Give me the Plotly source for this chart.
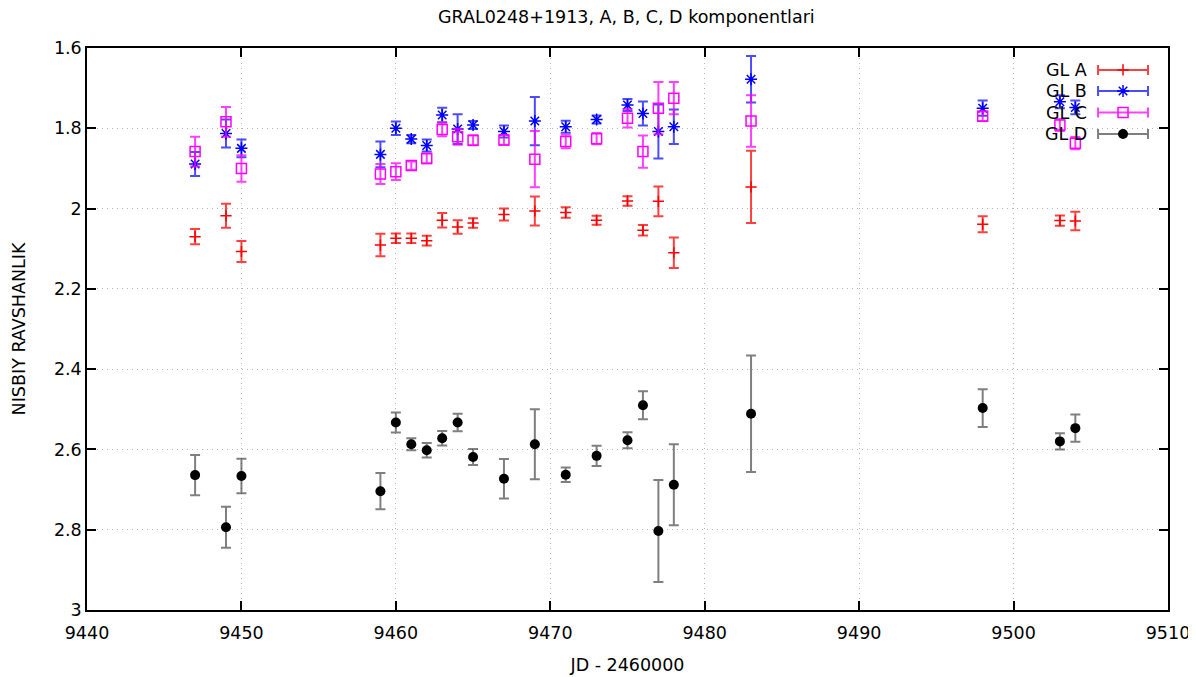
import plotly.graph_objects as go

# ---- data ----
jd = [9447, 9449, 9450, 9459, 9460, 9461, 9462, 9463, 9464, 9465, 9467,
      9469, 9471, 9473, 9475, 9476, 9477, 9478, 9483, 9498, 9503, 9504]

gl_a = [2.070, 2.018, 2.107, 2.091, 2.074, 2.074, 2.080, 2.029, 2.046, 2.036, 2.015,
        2.006, 2.010, 2.029, 1.981, 2.054, 1.982, 2.110, 1.946, 2.039, 2.030, 2.031]
gl_a_err = [0.019, 0.030, 0.026, 0.028, 0.012, 0.012, 0.012, 0.018, 0.017, 0.012, 0.015,
            0.036, 0.013, 0.011, 0.012, 0.013, 0.037, 0.038, 0.090, 0.020, 0.013, 0.023]

gl_b = [1.889, 1.813, 1.850, 1.865, 1.800, 1.827, 1.843, 1.767, 1.802, 1.792, 1.808,
        1.782, 1.796, 1.778, 1.742, 1.763, 1.808, 1.796, 1.678, 1.750, 1.734, 1.748]
gl_b_err = [0.030, 0.035, 0.022, 0.032, 0.017, 0.010, 0.015, 0.018, 0.037, 0.010, 0.015,
            0.060, 0.015, 0.010, 0.015, 0.030, 0.067, 0.043, 0.058, 0.019, 0.016, 0.017]

gl_c = [1.858, 1.784, 1.900, 1.914, 1.908, 1.893, 1.875, 1.803, 1.821, 1.830, 1.829,
        1.877, 1.833, 1.826, 1.775, 1.858, 1.750, 1.725, 1.782, 1.770, 1.792, 1.837]
gl_c_err = [0.037, 0.037, 0.033, 0.025, 0.021, 0.010, 0.012, 0.017, 0.020, 0.012, 0.012,
            0.070, 0.017, 0.014, 0.023, 0.040, 0.065, 0.040, 0.064, 0.012, 0.015, 0.015]

gl_d = [2.664, 2.794, 2.666, 2.704, 2.533, 2.587, 2.602, 2.572, 2.533, 2.619, 2.673,
        2.587, 2.663, 2.616, 2.577, 2.490, 2.803, 2.688, 2.511, 2.497, 2.580, 2.547]
gl_d_err = [0.050, 0.051, 0.043, 0.045, 0.025, 0.015, 0.018, 0.018, 0.022, 0.020, 0.049,
            0.087, 0.018, 0.025, 0.020, 0.035, 0.127, 0.101, 0.145, 0.047, 0.020, 0.034]

series_names = ["GL A", "GL B", "GL C", "GL D"]
y_ticks = [1.6, 1.8, 2.0, 2.2, 2.4, 2.6, 2.8, 3.0]
y_tick_text = ["1.6", "1.8", "2", "2.2", "2.4", "2.6", "2.8", "3"]
x_ticks = [9440, 9450, 9460, 9470, 9480, 9490, 9500, 9510]

# ---- styles ----
styles = [
    dict(marker=dict(symbol="cross-thin-open", size=8, color="#ff0000",
                     line=dict(color="#ff0000", width=1.5)),
         ecol="rgba(255,0,0,0.75)"),
    dict(marker=dict(symbol="asterisk-open", size=10, color="#0000ff",
                     line=dict(color="#0000ff", width=1.5)),
         ecol="rgba(0,0,255,0.7)"),
    dict(marker=dict(symbol="square-open", size=10, color="#ff00ff",
                     line=dict(color="#ff00ff", width=1.5)),
         ecol="rgba(255,0,255,0.75)"),
    dict(marker=dict(symbol="circle", size=10, color="#000000",
                     line=dict(color="#000000", width=0)),
         ecol="rgba(0,0,0,0.5)"),
]

values = [gl_a, gl_b, gl_c, gl_d]
errors = [gl_a_err, gl_b_err, gl_c_err, gl_d_err]

FONT = "DejaVu Sans, Liberation Sans, Arial, sans-serif"
FS = 17.5

fig = go.Figure()
for name, v, e, st in zip(series_names, values, errors, styles):
    fig.add_trace(go.Scatter(
        x=jd, y=v, mode="markers", name=name, showlegend=False,
        marker=st["marker"],
        error_y=dict(type="data", array=e, visible=True, color=st["ecol"],
                     thickness=2, width=5),
    ))

# ---- custom gnuplot-style legend (text left, sample right) on an overlay axis ----
leg_rows = [0.0391, 0.0765, 0.1148, 0.1530]  # fractions of plot height from top
for name, st, fy in zip(series_names, styles, leg_rows):
    fig.add_trace(go.Scatter(
        x=[0.9584], y=[1 - fy], xaxis="x2", yaxis="y2", mode="markers",
        showlegend=False, hoverinfo="skip", marker=st["marker"],
        error_x=dict(type="constant", value=0.0231, visible=True,
                     color=st["ecol"], thickness=2, width=5),
    ))
    fig.add_annotation(x=0.927, y=1 - fy, xref="x2", yref="y2", text=name,
                       showarrow=False, xanchor="right", yanchor="middle",
                       font=dict(family=FONT, size=FS, color="#000000"))

axis_font = dict(family=FONT, size=FS, color="#000000")

common_axis = dict(ticks="inside", ticklen=9, tickcolor="#000000", tickwidth=1.5,
                   showline=True, linecolor="#000000", linewidth=1.5, mirror="ticks",
                   showgrid=True, gridcolor="#b4b4b4", griddash="1px,4px", gridwidth=1,
                   zeroline=False, tickfont=axis_font, automargin=False)

# the page body adds an 8px offset, so margins are set 8px smaller on top/left
fig.update_layout(
    width=1196, height=677,
    margin=dict(l=79, r=36, t=40, b=75),
    paper_bgcolor="white", plot_bgcolor="white",
    font=dict(family=FONT, size=FS, color="#000000"),
    title=dict(text="GRAL0248+1913, A, B, C, D komponentlari", x=0.517, xanchor="center",
               y=1 - 9 / 677, yanchor="middle", font=dict(family=FONT, size=FS)),
    xaxis=dict(range=[9440, 9510], tickvals=x_ticks, ticklabelstandoff=6,
               title=dict(text="JD - 2460000", font=axis_font, standoff=17),
               **common_axis),
    yaxis=dict(range=[3.0, 1.6], tickvals=y_ticks, ticktext=y_tick_text,
               title=dict(text="NISBIY RAVSHANLIK", font=axis_font, standoff=24),
               **common_axis),
    xaxis2=dict(range=[0, 1], overlaying="x", visible=False, fixedrange=True),
    yaxis2=dict(range=[0, 1], overlaying="y", visible=False, fixedrange=True),
)

fig.write_html("out.html")
